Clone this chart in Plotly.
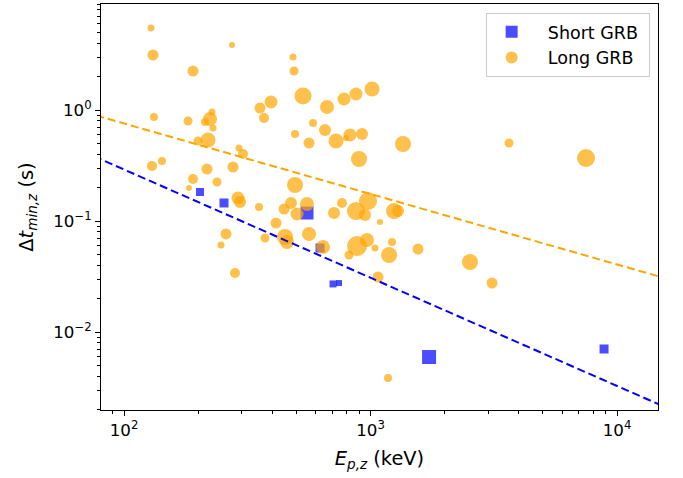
import numpy as np
import plotly.graph_objects as go

# ---- data ----
short_ep = [203.4, 254.5, 552.6, 624.1, 704.6, 745.1, 1728, 8860]
short_dt = [0.1825, 0.1453, 0.118, 0.0571, 0.0271, 0.0276, 0.00595, 0.00703]
short_size = [8, 9, 13, 9, 7, 6, 14, 9]

long_ep = [128.7, 131.1, 274.3, 190.5, 484.9, 489.5, 532.3, 394.9, 356.2, 369.8,
           666.1, 780.6, 873.4, 1014.4, 132.3, 181.8, 227.5, 223.3, 213.1, 229.6,
           219.2, 199.6, 292.8, 304.0, 584.6, 494.0, 653.9, 563.1, 724.6, 825.8,
           795.6, 923.9, 898.4, 1354.6, 3646, 7487, 129.9, 142.6, 217.1, 276.9,
           190.5, 183.5, 238.4, 494.0, 290.1, 295.6, 352.9, 445.9, 476.0, 503.4,
           552.6, 711.2, 766.3, 873.4, 977.0, 950.0, 1093, 1245.6, 1293, 413.7,
           259.3, 247.5, 373.3, 450.1, 458.6, 563.1, 641.7, 818.1, 881.8, 967.9,
           1043, 1189, 1223, 1559, 2533, 3112, 282.1, 1073, 1178]
long_dt = [5.48, 3.13, 3.85, 2.245, 3.00, 2.245, 1.337, 1.18, 1.042, 0.847,
           1.064, 1.256, 1.394, 1.546, 0.865, 0.796, 0.959, 0.830, 0.780, 0.688,
           0.537, 0.526, 0.4546, 0.4015, 0.7635, 0.6078, 0.6604, 0.5044, 0.526, 0.5953,
           0.5595, 0.6078, 0.362, 0.494, 0.5044, 0.3695, 0.3131, 0.3472, 0.294, 0.3065,
           0.2389, 0.1983, 0.2245, 0.211, 0.1611, 0.1483, 0.1337, 0.1283, 0.1453, 0.1156,
           0.1423, 0.118, 0.1453, 0.123, 0.1514, 0.1132, 0.098, 0.123, 0.123, 0.0959,
           0.0764, 0.0608, 0.0703, 0.0718, 0.0647, 0.0764, 0.0583, 0.0494, 0.0595, 0.0674,
           0.0571, 0.0494, 0.0647, 0.0559, 0.0427, 0.0276, 0.034, 0.0313, 0.00385]
long_size = [7, 11, 6, 11, 7, 9, 17, 13, 11, 10,
             14, 13, 13, 15, 8, 9, 7, 14, 8, 7,
             15, 9, 7, 10, 8, 8, 12, 11, 15, 13,
             6, 12, 16, 16, 9, 18, 10, 8, 11, 11,
             10, 6, 9, 16, 13, 12, 8, 11, 12, 13,
             14, 12, 10, 18, 18, 12, 6, 16, 12, 11,
             11, 7, 9, 16, 14, 14, 14, 9, 20, 14,
             7, 16, 8, 11, 16, 11, 10, 11, 8]

# power-law fits: [log10 amplitude, slope]
long_fit = [1.1485, -0.635]
short_fit = [1.414, -0.975]

x_tick_vals = [1e2, 1e3, 1e4]
x_tick_text = ["10<sup>2</sup>", "10<sup>3</sup>", "10<sup>4</sup>"]
y_tick_vals = [1e-2, 1e-1, 1e0]
y_tick_text = ["10<sup>\u22122</sup>", "10<sup>\u22121</sup>", "10<sup>0</sup>"]

FONT = "DejaVu Sans"

fit_x = np.logspace(1.7, 4.4, 60)
long_line = 10 ** (long_fit[0] + long_fit[1] * np.log10(fit_x))
short_line = 10 ** (short_fit[0] + short_fit[1] * np.log10(fit_x))

fig = go.Figure()
fig.add_trace(go.Scatter(
    x=short_ep, y=short_dt, mode="markers", name="\u00a0\u00a0Short GRB\u00a0",
    legendgroup="s",
    marker=dict(symbol="square", color="blue", opacity=0.7, size=short_size,
                line=dict(width=0))))
fig.add_trace(go.Scatter(
    x=long_ep, y=long_dt, mode="markers", name="\u00a0\u00a0Long GRB\u00a0",
    legendgroup="l",
    marker=dict(symbol="circle", color="orange", opacity=0.7, size=long_size,
                line=dict(width=0))))
fig.add_trace(go.Scatter(
    x=fit_x, y=long_line, mode="lines", showlegend=False, hoverinfo="skip",
    line=dict(color="orange", width=2, dash="8px,4px")))
fig.add_trace(go.Scatter(
    x=fit_x, y=short_line, mode="lines", showlegend=False, hoverinfo="skip",
    line=dict(color="blue", width=2, dash="8px,4px")))

minor_x = [m * 10 ** e for e in (1, 2, 3, 4) for m in range(2, 10)]
minor_y = [m * 10 ** e for e in (-3, -2, -1, 0) for m in range(2, 10)]

axis_common = dict(
    showline=True, linecolor="black", linewidth=1.1, mirror=True,
    showgrid=False, zeroline=False, ticks="outside", ticklen=5, tickwidth=1.1,
    tickcolor="black", tickfont=dict(family=FONT, size=16.7, color="black"),
)

fig.update_xaxes(
    type="log", range=[1.9067, 4.1663], tickmode="array",
    tickvals=x_tick_vals, ticktext=x_tick_text,
    minor=dict(tickmode="array", tickvals=minor_x, ticks="outside", ticklen=3,
               tickwidth=0.8, tickcolor="black", showgrid=False),
    title=dict(text="<i>E</i><sub><i>p,z</i></sub> (keV)",
               font=dict(family=FONT, size=19.4, color="black"), standoff=12),
    **axis_common)
fig.update_yaxes(
    type="log", range=[-2.7027, 0.955], tickmode="array",
    tickvals=y_tick_vals, ticktext=y_tick_text,
    minor=dict(tickmode="array", tickvals=minor_y, ticks="outside", ticklen=3,
               tickwidth=0.8, tickcolor="black", showgrid=False),
    title=dict(text="\u0394<i>t</i><sub><i>min,z</i></sub> (s)",
               font=dict(family=FONT, size=19.4, color="black"), standoff=14),
    **axis_common)

fig.update_layout(
    width=683, height=478,
    margin=dict(l=101, r=25, t=4, b=68, autoexpand=False),
    paper_bgcolor="white", plot_bgcolor="white",
    font=dict(family=FONT, color="black"),
    legend=dict(x=0.985, y=0.978, xanchor="right", yanchor="top",
                bgcolor="rgba(255,255,255,0.8)", bordercolor="#cccccc", borderwidth=1,
                font=dict(family=FONT, size=17.5, color="black"),
                itemsizing="constant", itemwidth=40, tracegroupgap=0,
                traceorder="grouped"),
)

fig.write_html("out.html", config={"displayModeBar": False},
               post_script="document.body.style.margin='0';")
